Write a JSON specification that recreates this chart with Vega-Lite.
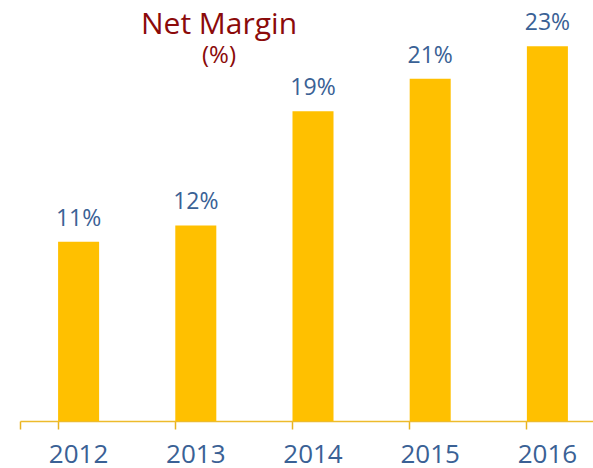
{
  "$schema": "https://vega.github.io/schema/vega-lite/v6.json",
  "autosize": {"type": "none"},
  "padding": {"left": 20, "top": 0, "right": 0, "bottom": 47},
  "width": 586,
  "height": 421,
  "background": "white",
  "title": {
    "text": "Net Margin",
    "subtitle": "(%)",
    "color": "#8B0A0A",
    "subtitleColor": "#8B0A0A",
    "font": "Open Sans",
    "subtitleFont": "Open Sans",
    "fontSize": 30,
    "subtitleFontSize": 24,
    "fontWeight": "normal",
    "subtitleFontWeight": "normal",
    "subtitlePadding": 4,
    "anchor": "middle",
    "dx": -94,
    "dy": 72
  },
  "data": {
    "values": [
      {"year": "2012", "margin": 11, "label": "11%"},
      {"year": "2013", "margin": 12, "label": "12%"},
      {"year": "2014", "margin": 19, "label": "19%"},
      {"year": "2015", "margin": 21, "label": "21%"},
      {"year": "2016", "margin": 23, "label": "23%"}
    ]
  },
  "config": {"view": {"stroke": null}},
  "encoding": {
    "x": {
      "field": "year",
      "type": "nominal",
      "scale": {"paddingInner": 0.65, "paddingOuter": 0.325},
      "axis": {
        "title": null,
        "labelAngle": 0,
        "ticks": true,
        "bandPosition": 0,
        "tickExtra": true,
        "domainColor": "#EDBB2C",
        "tickColor": "#E8B320",
        "tickSize": 8,
        "domainWidth": 1.5,
        "tickWidth": 1.5,
        "labelFont": "Open Sans",
        "labelFontSize": 26,
        "labelColor": "#3A6195",
        "labelBaseline": "alphabetic",
        "labelPadding": 33
      }
    },
    "y": {
      "field": "margin",
      "type": "quantitative",
      "scale": {"domain": [0, 25.83], "nice": false},
      "axis": null
    }
  },
  "layer": [
    {"mark": {"type": "bar", "color": "#FFC000"}},
    {
      "mark": {
        "type": "text",
        "baseline": "alphabetic",
        "dy": -16,
        "font": "Open Sans",
        "fontSize": 23,
        "color": "#3A6195"
      },
      "encoding": {"text": {"field": "label", "type": "nominal"}}
    }
  ]
}
